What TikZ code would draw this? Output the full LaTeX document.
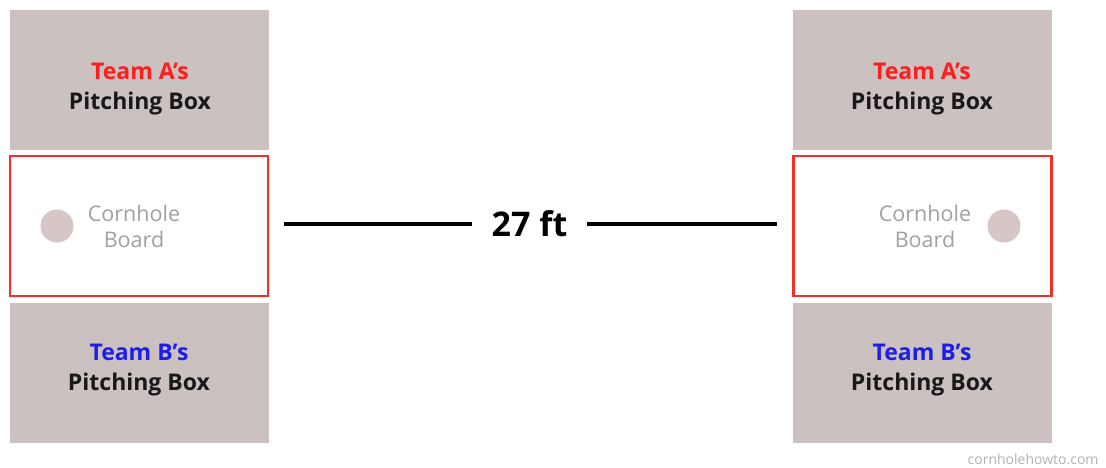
\documentclass[tikz,border=0pt]{standalone}
\usepackage{fontspec}
\setmainfont{Open Sans}
\definecolor{boxgray}{HTML}{CBC1C1}
\definecolor{holegray}{HTML}{D6C6C6}
\definecolor{txtgray}{HTML}{A0A0A0}
\definecolor{teamred}{HTML}{FF1E1E}
\definecolor{teamblue}{HTML}{1E1EE8}
\definecolor{bordred}{HTML}{F0302A}
\begin{document}
\begin{tikzpicture}[x=1pt,y=-1pt,
  pbox/.style={fill=boxgray, draw=none, minimum width=259pt, minimum height=140pt, inner sep=0pt},
  board/.style={fill=white, draw=bordred, line width=2.2pt, minimum width=258pt, minimum height=140pt, inner sep=0pt},
  hole/.style={fill=holegray, draw=none, circle, minimum size=33pt, inner sep=0pt},
  boxlabel/.style={align=center, font=\fontsize{23}{30}\selectfont\bfseries, text=black!90},
  boardlabel/.style={align=center, font=\fontsize{21.5}{26}\selectfont, text=txtgray},
  distline/.style={line width=3.2pt, black}]
\useasboundingbox (0,0) rectangle (1106,467);
% left side
\node[pbox] (topL) at (139.5,80) {};
\node[board] (boardL) at (139,226) {};
\node[pbox] (botL) at (139.5,373) {};
\node[boxlabel] (topLt) at (140,89) {\textcolor{teamred}{Team A’s}\\Pitching Box};
\node[boxlabel] (botLt) at (139,370) {\textcolor{teamblue}{Team B’s}\\Pitching Box};
\node[hole] (holeL) at (57,226) {};
\node[boardlabel] (txtL) at (134,226) {Cornhole\\Board};
% right side
\node[pbox] (topR) at (922.5,80) {};
\node[board] (boardR) at (922.5,226) {};
\node[pbox] (botR) at (922.5,373) {};
\node[boxlabel] (topRt) at (922,89) {\textcolor{teamred}{Team A’s}\\Pitching Box};
\node[boxlabel] (botRt) at (922,370) {\textcolor{teamblue}{Team B’s}\\Pitching Box};
\node[hole] (holeR) at (1004,226) {};
\node[boardlabel] (txtR) at (925,226) {Cornhole\\Board};
% distance
\node[font=\fontsize{34}{40}\selectfont\bfseries, inner sep=0pt, minimum width=115pt] (dist) at (529.5,224) {27 ft};
\coordinate (lineL) at (284,224);
\coordinate (lineR) at (777,224);
\draw[distline] (lineL) -- (lineL -| dist.west);
\draw[distline] (lineR -| dist.east) -- (lineR);
% watermark
\node[font=\fontsize{14}{16}\selectfont, text=black!30, anchor=east] (wm) at (1102,459) {cornholehowto.com};
\end{tikzpicture}
\end{document}
